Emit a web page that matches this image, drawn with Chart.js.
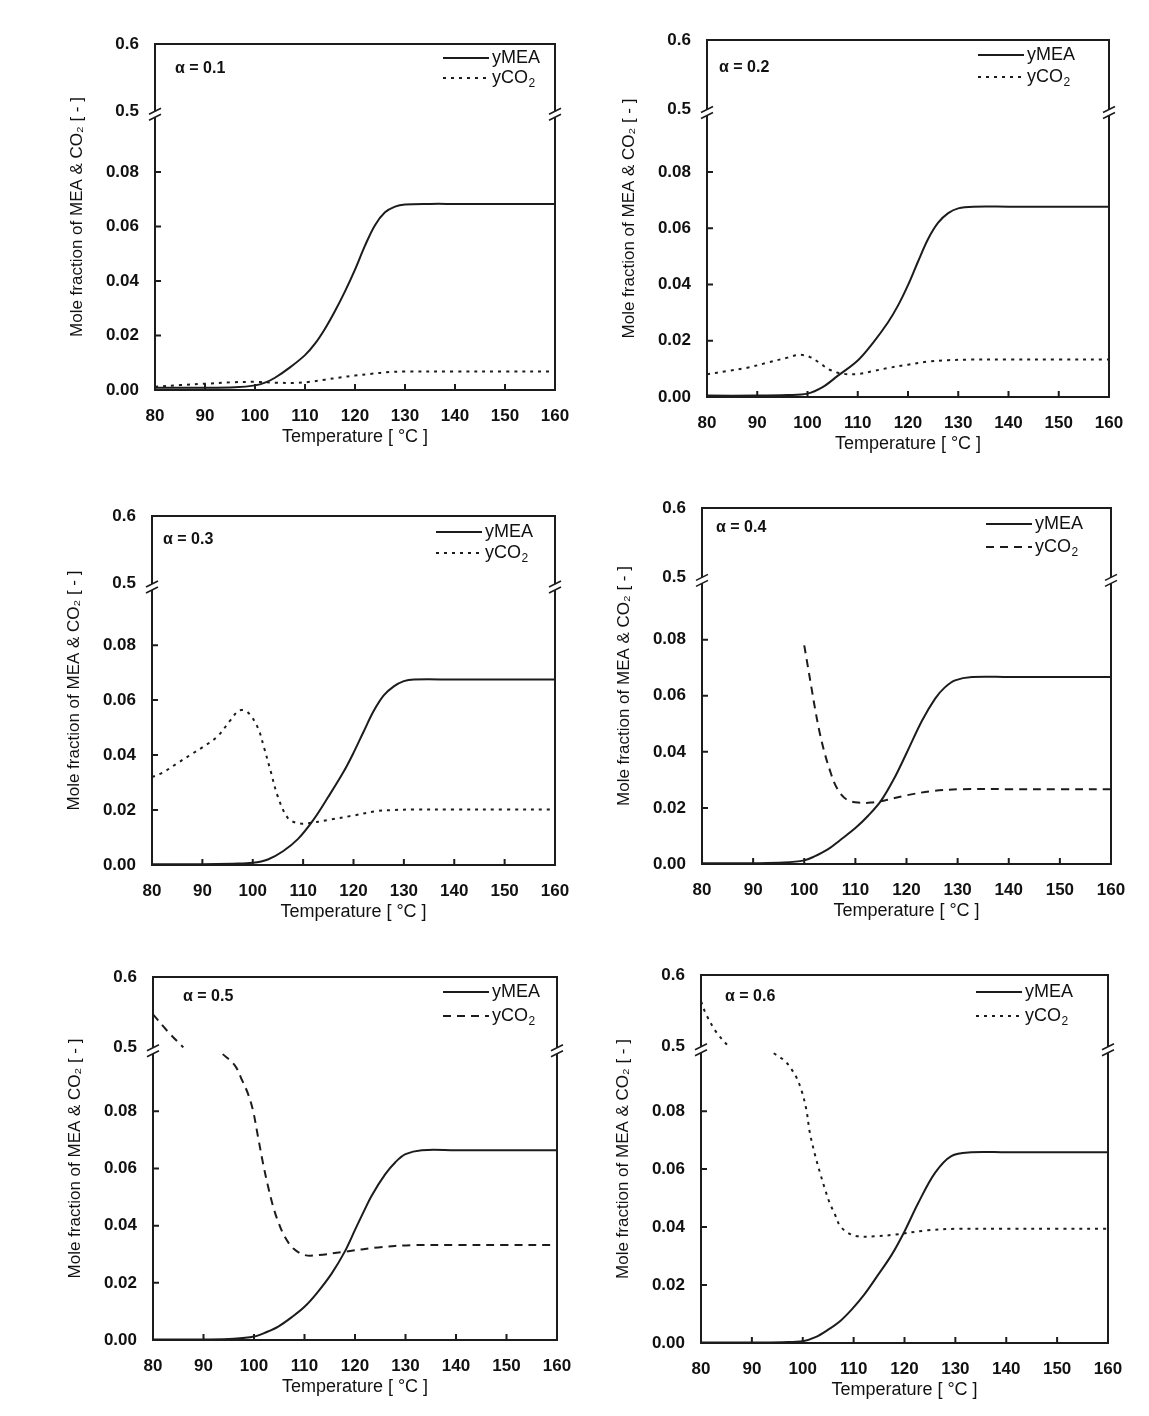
<!DOCTYPE html>
<html>
<head>
<meta charset="utf-8">
<script src="https://cdn.jsdelivr.net/npm/chart.js@4.4.1/dist/chart.umd.min.js"></script>
<style>
  html, body { margin: 0; padding: 0; background: #fff; }
  body { width: 1149px; height: 1416px; position: relative; overflow: hidden; }
  canvas { position: absolute; }
</style>
</head>
<body>
<script>
// ---------- data ----------
const alphaLabels = ['α = 0.1', 'α = 0.2', 'α = 0.3', 'α = 0.4', 'α = 0.5', 'α = 0.6'];
const seriesLabels = ['yMEA', 'yCO₂'];
const xTickValues = [80, 90, 100, 110, 120, 130, 140, 150, 160];
const yTickValues = [0, 0.02, 0.04, 0.06, 0.08, 0.5, 0.6];

// alpha = 0.1
const meaT1 = [80, 90, 96, 100, 102, 104, 107, 110, 112, 114, 116, 118, 120, 122, 124, 126, 128, 130, 135, 140, 150, 160];
const meaY1 = [0.0008, 0.0008, 0.0010, 0.0017, 0.0027, 0.0045, 0.0083, 0.0128, 0.0170, 0.0225, 0.0290, 0.0362, 0.0442, 0.0530, 0.0605, 0.0652, 0.0673, 0.0681, 0.0683, 0.0683, 0.0683, 0.0683];
const co2T1 = [80, 85, 90, 95, 100, 104, 108, 111, 114, 117, 120, 123, 127, 130, 140, 150, 160];
const co2Y1 = [0.0012, 0.0018, 0.0023, 0.0028, 0.0030, 0.0027, 0.0026, 0.0030, 0.0038, 0.0046, 0.0053, 0.0059, 0.0066, 0.0068, 0.0068, 0.0068, 0.0068];

// alpha = 0.2
const meaT2 = [80, 90, 96, 100, 103, 106, 110, 113, 116, 118, 120, 122, 124, 126, 128, 130, 133, 140, 150, 160];
const meaY2 = [0.0005, 0.0005, 0.0007, 0.0012, 0.0035, 0.0075, 0.0130, 0.0192, 0.0265, 0.0325, 0.0398, 0.0482, 0.0562, 0.0620, 0.0654, 0.0671, 0.0677, 0.0677, 0.0677, 0.0677];
const co2T2 = [80, 84, 88, 92, 96, 98.5, 100.5, 102.5, 104.5, 107, 110, 113, 116, 120, 124, 128, 132, 140, 150, 160];
const co2Y2 = [0.0081, 0.0092, 0.0104, 0.0122, 0.0140, 0.0150, 0.0142, 0.0120, 0.0096, 0.0083, 0.0082, 0.0092, 0.0103, 0.0115, 0.0126, 0.0131, 0.0133, 0.0133, 0.0133, 0.0133];

// alpha = 0.3
const meaT3 = [80, 90, 96, 100, 103, 106, 109, 112, 115, 118, 120, 122, 124, 126, 128, 130, 132, 140, 150, 160];
const meaY3 = [0.0003, 0.0003, 0.0005, 0.0008, 0.0020, 0.0050, 0.0095, 0.0163, 0.0248, 0.0338, 0.0408, 0.0485, 0.0560, 0.0617, 0.0650, 0.0669, 0.0675, 0.0675, 0.0675, 0.0675];
const co2T3 = [80, 82, 85, 88, 90, 93, 95.5, 97.3, 99, 101, 102.2, 103.5, 105, 107, 109, 111, 115, 120, 124.5, 128, 132, 140, 150, 160];
const co2Y3 = [0.0320, 0.0335, 0.0370, 0.0405, 0.0428, 0.0468, 0.0525, 0.0562, 0.0556, 0.0500, 0.0430, 0.0345, 0.0248, 0.0170, 0.0152, 0.0152, 0.0164, 0.0180, 0.0196, 0.0200, 0.0202, 0.0202, 0.0202, 0.0202];

// alpha = 0.4
const meaT4 = [80, 90, 96, 100, 102, 104.6, 107, 110, 112.5, 115, 117.5, 120, 123, 125.6, 127.5, 129.5, 132.8, 140, 150, 160];
const meaY4 = [0.0003, 0.0003, 0.0005, 0.0013, 0.0027, 0.0052, 0.0085, 0.0128, 0.0172, 0.0225, 0.0302, 0.0395, 0.0510, 0.0590, 0.0630, 0.0655, 0.0667, 0.0667, 0.0667, 0.0667];
const co2T4 = [100, 100.7, 101.4, 102.1, 103, 104, 105, 106, 107.2, 108.5, 110.5, 113, 116, 120, 125, 131, 140, 150, 160];
const co2Y4 = [0.0780, 0.0705, 0.0630, 0.0555, 0.0470, 0.0395, 0.0335, 0.0285, 0.0248, 0.0228, 0.0219, 0.0219, 0.0228, 0.0245, 0.0260, 0.0267, 0.0267, 0.0267, 0.0267];

// alpha = 0.5 (null = curve hidden inside the axis break)
const meaT5 = [80, 90, 96, 100, 102.5, 104.8, 107.5, 110, 112.5, 115.4, 118, 120, 121.7, 123.3, 126, 128, 130, 133.2, 140, 150, 160];
const meaY5 = [0.0002, 0.0002, 0.0004, 0.0012, 0.0028, 0.0047, 0.0080, 0.0116, 0.0165, 0.0233, 0.0310, 0.0385, 0.0448, 0.0505, 0.0580, 0.0622, 0.0650, 0.0664, 0.0664, 0.0664, 0.0664];
const co2T5 = [80, 83, 86, 90, 93.8, 96.2, 97.5, 98.8, 99.8, 100.8, 101.8, 102.8, 103.8, 104.8, 106.1, 107.8, 110.1, 112.7, 118, 124.6, 131.2, 140, 150, 160];
const co2Y5 = [0.547, 0.522, 0.500, null, 0.1000, 0.0961, 0.0914, 0.0862, 0.0803, 0.0710, 0.0617, 0.0536, 0.0466, 0.0413, 0.0361, 0.0320, 0.0297, 0.0297, 0.0309, 0.0324, 0.0332, 0.0332, 0.0332, 0.0332];

// alpha = 0.6
const meaT6 = [80, 90, 96, 100, 102.5, 105, 107.5, 109.6, 112, 114.8, 117.5, 120, 122.7, 126, 129.2, 133.1, 140, 150, 160];
const meaY6 = [0.0002, 0.0002, 0.0003, 0.0006, 0.0020, 0.0046, 0.0078, 0.0115, 0.0165, 0.0235, 0.0305, 0.0385, 0.0483, 0.0587, 0.0645, 0.0658, 0.0658, 0.0658, 0.0658];
const co2T6 = [80, 81, 83, 85.4, 90, 94.3, 96.5, 97.8, 98.8, 99.8, 100.7, 101.4, 102.4, 103.4, 104.3, 105.3, 106.3, 107.3, 108.9, 110.9, 114.2, 118.1, 124.6, 129.9, 140, 150, 160];
const co2Y6 = [0.563, 0.545, 0.520, 0.500, null, 0.1000, 0.0973, 0.0944, 0.0915, 0.0869, 0.0806, 0.0725, 0.0650, 0.0587, 0.0535, 0.0483, 0.0445, 0.0405, 0.0380, 0.0368, 0.0368, 0.0374, 0.0389, 0.0394, 0.0394, 0.0394, 0.0394];

// ---------- broken y axis: 0–0.1 below, 0.5–0.6 above ----------
const BREAK_LOW = 0.1, BREAK_HIGH = 0.5, Y_MAX = 0.6;
const LOW_FRAC = 0.7875, HIGH_FRAC = 0.806;

function valueToFraction(v) {
  if (v <= BREAK_LOW) return v / BREAK_LOW * LOW_FRAC;
  if (v >= BREAK_HIGH) return HIGH_FRAC + (v - BREAK_HIGH) / (Y_MAX - BREAK_HIGH) * (1 - HIGH_FRAC);
  return LOW_FRAC + (v - BREAK_LOW) / (BREAK_HIGH - BREAK_LOW) * (HIGH_FRAC - LOW_FRAC);
}
function fractionToValue(f) {
  if (f <= LOW_FRAC) return f / LOW_FRAC * BREAK_LOW;
  if (f >= HIGH_FRAC) return BREAK_HIGH + (f - HIGH_FRAC) / (1 - HIGH_FRAC) * (Y_MAX - BREAK_HIGH);
  return BREAK_LOW + (f - LOW_FRAC) / (HIGH_FRAC - LOW_FRAC) * (BREAK_HIGH - BREAK_LOW);
}

class BrokenLinearScale extends Chart.LinearScale {
  getPixelForValue(value) {
    if (value === null || value === undefined || isNaN(value)) return NaN;
    return this.getPixelForDecimal(valueToFraction(value));
  }
  getValueForPixel(pixel) {
    return fractionToValue(this.getDecimalForPixel(pixel));
  }
}
BrokenLinearScale.id = 'brokenLinear';
BrokenLinearScale.defaults = Chart.LinearScale.defaults;
Chart.register(BrokenLinearScale);

// ---------- look ----------
const INK = '#1c1c1c';
const FONT = '"Liberation Sans", Arial, Helvetica, sans-serif';
const DOTTED = [3, 5];
const DASHED = [8, 6];
const AXIS_W = 95, AXIS_H = 70, PAD_T = 20, PAD_R = 25;

Chart.defaults.font.family = FONT;
Chart.defaults.color = '#111';

// plot boxes [left, top, right, bottom] in page pixels, plus label placement
const panels = [
  { mea: [meaT1, meaY1], co2: [co2T1, co2Y1], dash: DOTTED, box: [155, 44, 555, 390], alphaAt: [20, 25], legendDx: 63, legendRows: [14, 34] },
  { mea: [meaT2, meaY2], co2: [co2T2, co2Y2], dash: DOTTED, box: [707, 40, 1109, 397], alphaAt: [12, 28], legendDx: 82, legendRows: [15, 37] },
  { mea: [meaT3, meaY3], co2: [co2T3, co2Y3], dash: DOTTED, box: [152, 516, 555, 865], alphaAt: [11, 24], legendDx: 70, legendRows: [16, 37] },
  { mea: [meaT4, meaY4], co2: [co2T4, co2Y4], dash: DASHED, box: [702, 508, 1111, 864], alphaAt: [14, 20], legendDx: 76, legendRows: [16, 39] },
  { mea: [meaT5, meaY5], co2: [co2T5, co2Y5], dash: DASHED, box: [153, 977, 557, 1340], alphaAt: [30, 20], legendDx: 65, legendRows: [15, 39] },
  { mea: [meaT6, meaY6], co2: [co2T6, co2Y6], dash: DOTTED, box: [701, 975, 1108, 1343], alphaAt: [24, 22], legendDx: 83, legendRows: [17, 41] }
];

const toPoints = (ts, ys) => ts.map((t, k) => ({ x: t, y: ys[k] }));

// draw text with trailing unicode subscript digits as a real lowered smaller digit
function drawLabel(ctx, label, x, y) {
  const m = label.match(/^(.*?)([\u2080-\u2089]+)$/);
  ctx.font = '18px ' + FONT;
  ctx.textAlign = 'left';
  ctx.textBaseline = 'middle';
  if (!m) { ctx.fillText(label, x, y); return; }
  ctx.fillText(m[1], x, y);
  const w = ctx.measureText(m[1]).width;
  const sub = m[2].replace(/[\u2080-\u2089]/g, c => String.fromCharCode(c.charCodeAt(0) - 0x2080 + 48));
  ctx.font = '12px ' + FONT;
  ctx.fillText(sub, x + w + 0.5, y + 6);
}

const panelDecor = {
  id: 'panelDecor',
  afterDatasetsDraw(chart, args, opts) {
    const { ctx, chartArea: a, scales: { x, y } } = chart;
    const p = opts.panel;
    const yb = (y.getPixelForValue(BREAK_LOW) + y.getPixelForValue(BREAK_HIGH)) / 2;
    ctx.save();
    ctx.strokeStyle = INK;
    ctx.fillStyle = '#111';
    ctx.lineCap = 'butt';

    // frame, cut at the axis break
    ctx.lineWidth = 2;
    ctx.beginPath();
    ctx.moveTo(a.left, yb - 3); ctx.lineTo(a.left, a.top); ctx.lineTo(a.right, a.top); ctx.lineTo(a.right, yb - 3);
    ctx.moveTo(a.left, yb + 3); ctx.lineTo(a.left, a.bottom); ctx.lineTo(a.right, a.bottom); ctx.lineTo(a.right, yb + 3);
    ctx.stroke();

    // inward tick marks
    ctx.beginPath();
    y.ticks.forEach(t => {
      if (t.value > 0 && t.value < BREAK_LOW) {
        const py = y.getPixelForValue(t.value);
        ctx.moveTo(a.left, py); ctx.lineTo(a.left + 6, py);
      }
    });
    x.ticks.forEach(t => {
      if (t.value > x.min && t.value < x.max) {
        const px = x.getPixelForValue(t.value);
        ctx.moveTo(px, a.bottom); ctx.lineTo(px, a.bottom - 6);
      }
    });
    ctx.stroke();

    // break marks //
    ctx.lineWidth = 1.6;
    [a.left, a.right].forEach(bx => {
      ctx.beginPath();
      ctx.moveTo(bx - 6, yb); ctx.lineTo(bx + 6, yb - 6);
      ctx.moveTo(bx - 6, yb + 6); ctx.lineTo(bx + 6, yb);
      ctx.stroke();
    });

    // alpha label
    ctx.font = 'bold 16px ' + FONT;
    ctx.textAlign = 'left';
    ctx.textBaseline = 'middle';
    ctx.fillText(opts.alpha, a.left + p.alphaAt[0], a.top + p.alphaAt[1]);

    // legend
    const tx = a.right - p.legendDx;
    chart.data.datasets.forEach((ds, i) => {
      const ty = a.top + p.legendRows[i];
      ctx.lineWidth = ds.borderWidth;
      ctx.strokeStyle = ds.borderColor;
      ctx.setLineDash(ds.borderDash || []);
      ctx.beginPath();
      ctx.moveTo(tx - 49, ty); ctx.lineTo(tx - 3, ty);
      ctx.stroke();
      ctx.setLineDash([]);
      drawLabel(ctx, ds.label, tx, ty);
    });
    ctx.restore();
  }
};

panels.forEach((p, i) => {
  const [L, T, R, B] = p.box;
  const w = R - L + AXIS_W + PAD_R;
  const h = B - T + PAD_T + AXIS_H;
  const cv = document.createElement('canvas');
  cv.width = w; cv.height = h;
  cv.style.left = (L - AXIS_W) + 'px';
  cv.style.top = (T - PAD_T) + 'px';
  cv.style.width = w + 'px';
  cv.style.height = h + 'px';
  document.body.appendChild(cv);

  new Chart(cv, {
    type: 'line',
    data: {
      datasets: [
        { label: seriesLabels[0], data: toPoints(p.mea[0], p.mea[1]), borderColor: INK, borderWidth: 2,
          pointRadius: 0, tension: 0.35, spanGaps: false },
        { label: seriesLabels[1], data: toPoints(p.co2[0], p.co2[1]), borderColor: INK, borderWidth: 2,
          borderDash: p.dash, pointRadius: 0, tension: 0.35, spanGaps: false }
      ]
    },
    options: {
      responsive: false,
      animation: false,
      devicePixelRatio: 1,
      events: [],
      layout: { padding: { top: PAD_T, right: PAD_R, left: 0, bottom: 0 } },
      plugins: {
        legend: { display: false },
        tooltip: { enabled: false },
        panelDecor: { panel: p, alpha: alphaLabels[i] }
      },
      scales: {
        x: {
          type: 'linear', min: 80, max: 160,
          afterBuildTicks: s => { s.ticks = xTickValues.map(v => ({ value: v })); },
          afterFit: s => { s.height = AXIS_H; s.paddingLeft = 0; s.paddingRight = 0; },
          grid: { display: false }, border: { display: false },
          ticks: { autoSkip: false, maxRotation: 0, padding: 8, color: '#111', font: { size: 17, weight: 'bold' } },
          title: { display: true, text: 'Temperature [ °C ]', color: '#111', font: { size: 18 }, padding: { top: 0, bottom: 12 } }
        },
        y: {
          type: 'brokenLinear', min: 0, max: Y_MAX,
          afterBuildTicks: s => { s.ticks = yTickValues.map(v => ({ value: v })); },
          afterFit: s => { s.width = AXIS_W; s.paddingTop = 0; s.paddingBottom = 0; },
          grid: { display: false }, border: { display: false },
          ticks: { autoSkip: false, padding: 8, color: '#111', font: { size: 17, weight: 'bold' },
                   callback: v => v >= BREAK_HIGH ? v.toFixed(1) : v.toFixed(2) },
          title: { display: true, text: 'Mole fraction of MEA & CO₂ [ - ]', color: '#111', font: { size: 17 }, padding: { top: 7, bottom: 0 } }
        }
      }
    },
    plugins: [panelDecor]
  });
});
</script>
</body>
</html>
